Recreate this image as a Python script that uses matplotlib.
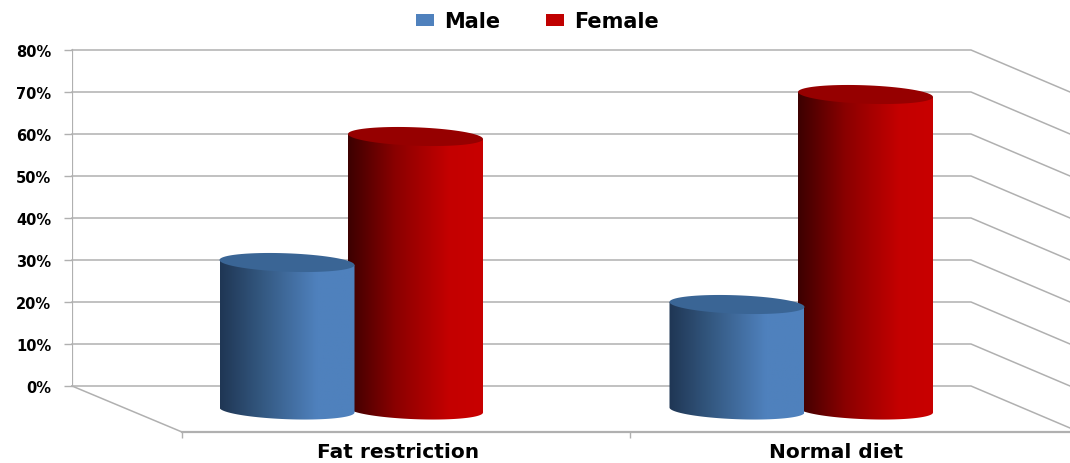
import numpy as np
import matplotlib
matplotlib.use("Agg")
import matplotlib.pyplot as plt
from matplotlib.colors import LinearSegmentedColormap
from matplotlib.patches import Patch, PathPatch
from matplotlib.path import Path

categories = ["Fat restriction", "Normal diet"]
male = [30, 20]
female = [60, 70]
y_ticks = [0, 10, 20, 30, 40, 50, 60, 70, 80]
y_labels = ["0%", "10%", "20%", "30%", "40%", "50%", "60%", "70%", "80%"]

W, H = 1070, 464
PX = 4.2                  # pixels per percentage point
ZERO_Y = 387              # pixel row of the 0% line
FLOOR_Y = 433             # pixel row of the front floor edge
LEFT = 72
GRID = "#b0b0b0"

blue_cmap = LinearSegmentedColormap.from_list(
    "blue", [(0, "#1f3654"), (0.3, "#33577f"), (0.72, "#4f81bd"), (1, "#4f81bd")])
red_cmap = LinearSegmentedColormap.from_list(
    "red", [(0, "#3c0000"), (0.35, "#8a0000"), (0.75, "#c40000"), (1, "#c80000")])


def ellipse(cx, cy, n=80):
    """Tilted cylinder cap, x in pixels and y in percent."""
    t = np.linspace(0, 2 * np.pi, n)
    x = cx + 67.5 * np.cos(t)
    y = cy - (2.5 * np.cos(t) + 9.2 * np.sin(t)) / PX
    return x, y


def cylinder(ax, cx, value, cmap, cap_color):
    top = value - 2.5 / PX
    base = -24 / PX
    t = np.linspace(np.pi, 0, 60)
    xb = cx + 67.5 * np.cos(t)
    yb = base - (2.5 * np.cos(t) + 9.2 * np.sin(t)) / PX
    xs = np.r_[cx - 67.5, xb, cx + 67.5]
    ys = np.r_[top + 2.5 / PX, yb, top - 2.5 / PX]
    body = PathPatch(Path(np.c_[xs, ys]), facecolor="none", edgecolor="none", zorder=3)
    ax.add_patch(body)
    grad = np.linspace(0, 1, 256).reshape(1, -1)
    im = ax.imshow(grad, cmap=cmap, aspect="auto", zorder=3, interpolation="bilinear",
                   extent=(cx - 67.5, cx + 67.5, base - 12 / PX, top + 5 / PX))
    im.set_clip_path(body)
    ex, ey = ellipse(cx, top)
    ax.fill(ex, ey, color=cap_color, lw=0, zorder=4)


fig = plt.figure(figsize=(W / 100, H / 100), dpi=100)
ax = fig.add_axes([LEFT / W, 1 - FLOOR_Y / H, (W - LEFT) / W, FLOOR_Y / H])
ax.set_xlim(LEFT, W)
ax.set_ylim((ZERO_Y - FLOOR_Y) / PX, ZERO_Y / PX)

# back wall grid and the side wall running off to the right
for v in y_ticks:
    ax.plot([LEFT, 971, W], [v, v, v - 42 / PX], color=GRID, lw=1.1, zorder=1, clip_on=False)
ax.plot([LEFT, LEFT], [0, 80], color=GRID, lw=1.6, zorder=1)
ax.plot([LEFT, 182], [0, (ZERO_Y - FLOOR_Y) / PX], color=GRID, lw=1.1, zorder=1, clip_on=False)

for i in range(len(categories)):
    group = 351 + 450 * i
    cylinder(ax, group + 64.5, female[i], red_cmap, "#960000")
    cylinder(ax, group - 64, male[i], blue_cmap, "#3a6595")

ax.set_xlim(LEFT, W)
ax.set_ylim((ZERO_Y - FLOOR_Y) / PX, ZERO_Y / PX)

for side in ["top", "left", "right"]:
    ax.spines[side].set_visible(False)
ax.spines["bottom"].set_bounds(182, W)
ax.spines["bottom"].set_color(GRID)
ax.spines["bottom"].set_linewidth(1.6)

ax.set_yticks(y_ticks)
ax.set_yticklabels(y_labels, fontsize=10.5, fontweight="bold")
ax.tick_params(axis="y", length=6, width=1, color=GRID, pad=9)
ax.set_xticks([398, 836])
ax.set_xticklabels(categories, fontsize=14.5, fontweight="bold")
ax.set_xticks([182, 630], minor=True)
ax.tick_params(axis="x", which="major", length=0, pad=7.5)
ax.tick_params(axis="x", which="minor", length=4.5, width=1, color=GRID)

handles = [Patch(facecolor="#4f81bd", label="Male"), Patch(facecolor="#c00000", label="Female")]
fig.legend(handles=handles, loc="upper left", ncol=2, frameon=False, borderpad=0, borderaxespad=0,
           bbox_to_anchor=(416 / W, 1 - 12 / H), prop={"size": 15, "weight": "bold"},
           handlelength=0.85, handleheight=0.5, handletextpad=0.5, columnspacing=2.2)

fig.savefig("out.png", dpi=100)
